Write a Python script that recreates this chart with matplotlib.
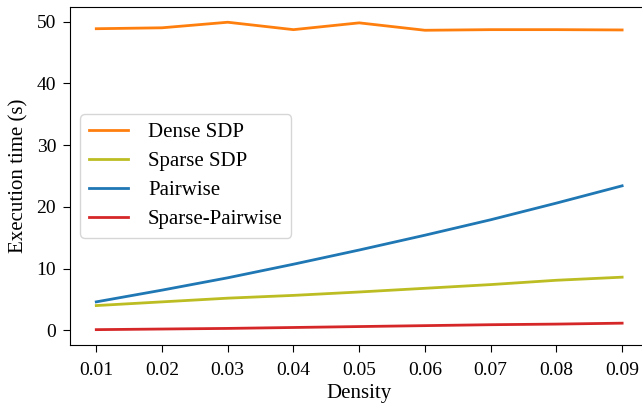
import matplotlib
matplotlib.use("Agg")
import matplotlib.pyplot as plt

plt.rcParams['font.family'] = ['Liberation Serif', 'DejaVu Serif']
plt.rcParams['font.size'] = 15

density = [0.01, 0.02, 0.03, 0.04, 0.05, 0.06, 0.07, 0.08, 0.09]
dense_sdp = [48.85, 49.0, 49.9, 48.7, 49.8, 48.6, 48.7, 48.7, 48.65]
sparse_sdp = [4.0, 4.6, 5.2, 5.65, 6.2, 6.8, 7.4, 8.1, 8.6]
pairwise = [4.6, 6.5, 8.5, 10.7, 13.0, 15.4, 17.9, 20.6, 23.4]
sparse_pairwise = [0.1, 0.2, 0.3, 0.45, 0.6, 0.75, 0.9, 1.0, 1.15]

fig = plt.figure(figsize=(6.42, 4.04), dpi=100)
ax = fig.add_axes([0.109, 0.146, 0.901, 0.837])

ax.plot(density, dense_sdp, color='tab:orange', lw=2, label='Dense SDP')
ax.plot(density, sparse_sdp, color='tab:olive', lw=2, label='Sparse SDP')
ax.plot(density, pairwise, color='tab:blue', lw=2, label='Pairwise')
ax.plot(density, sparse_pairwise, color='tab:red', lw=2, label='Sparse-Pairwise')

ax.set_xticks(density)
ax.set_xticklabels(['%.2f' % d for d in density])
ax.tick_params(labelsize=14, length=5, pad=5)
ax.tick_params(axis='x', pad=7)
ax.set_xlabel('Density', labelpad=4)
ax.set_ylabel('Execution time (s)', labelpad=6)
ax.legend(loc='center left', labelspacing=0.45, handlelength=1.9,
          handletextpad=0.95)

fig.savefig('out.png', dpi=100)
